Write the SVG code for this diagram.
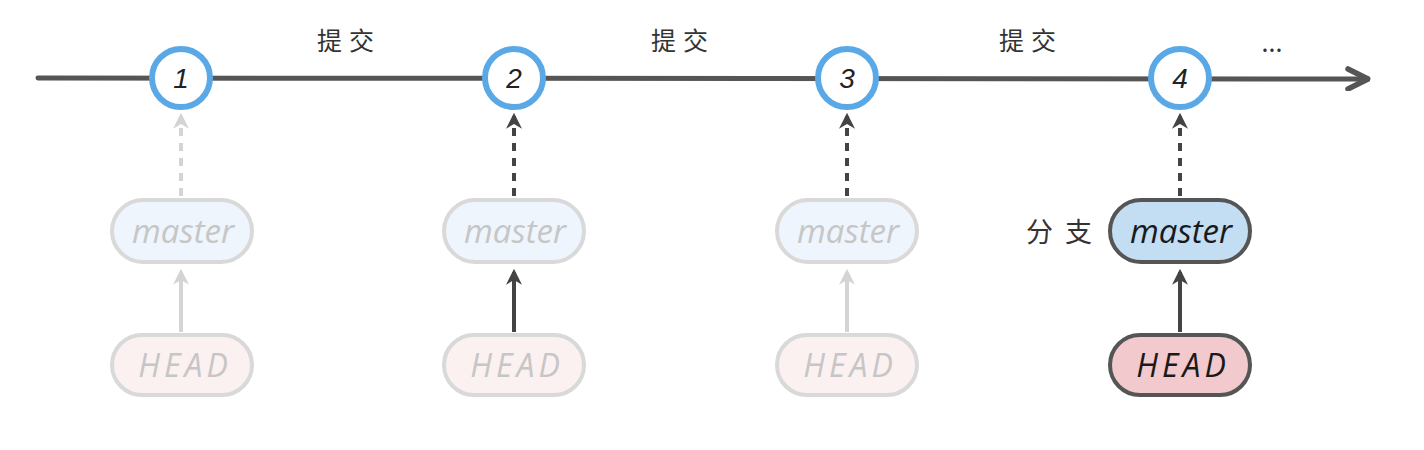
<svg xmlns="http://www.w3.org/2000/svg" width="1424" height="450" viewBox="0 0 1424 450">
<defs>
<style>
.axis{stroke:#555;stroke-width:5;fill:none;stroke-linecap:round}
.commit circle{fill:#fff;stroke:#5aa9e6;stroke-width:6}
.commit text{font-family:"Liberation Sans","DejaVu Sans",sans-serif;font-style:italic;font-size:28px;fill:#222;text-anchor:middle}
.lbl{font-family:"Noto Sans CJK SC","DejaVu Sans",sans-serif;font-size:25px;fill:#333;text-anchor:middle;letter-spacing:7px}
.pill rect{stroke-width:4}
.pill text{font-family:"Open Sans","Liberation Sans",sans-serif;font-style:italic;font-size:33px;text-anchor:middle}
.pill text.hd{font-size:32px;letter-spacing:4px}
.fade rect{stroke:#d9d9d9}
.fade text{fill:#c6c6c6}
.fm rect{fill:#eef5fc}
.fh rect{fill:#fbf1f1}
.act rect{stroke:#555}
.act text{fill:#1a1a1a}
.am rect{fill:#c3ddf3}
.ah rect{fill:#f2c9cc}
.dk{stroke:#444;stroke-width:4;fill:none}
.lt{stroke:#d4d4d4;stroke-width:4;fill:none}
.dash{stroke-dasharray:8 7}
</style>
<marker id="ad" viewBox="0 0 10 10" refX="8" refY="5" markerWidth="4" markerHeight="4" orient="auto-start-reverse"><path d="M0,0 L10,5 L0,10 L3,5 Z" fill="#444"/></marker>
<marker id="al" viewBox="0 0 10 10" refX="8" refY="5" markerWidth="4" markerHeight="4" orient="auto-start-reverse"><path d="M0,0 L10,5 L0,10 L3,5 Z" fill="#d4d4d4"/></marker>
<marker id="ax" viewBox="0 0 10 10" refX="9" refY="5" markerWidth="5" markerHeight="5" orient="auto"><path d="M1,1 L9,5 L1,9" fill="none" stroke="#555" stroke-width="2.2" stroke-linecap="round" stroke-linejoin="round"/></marker>
</defs>
<g id="connectors">
<line class="axis" x1="38" y1="78" x2="1368" y2="79" marker-end="url(#ax)"/>
<line class="lt dash" x1="181" y1="196" x2="181" y2="116" marker-end="url(#al)"/>
<line class="lt" x1="181" y1="332" x2="181" y2="272" marker-end="url(#al)"/>
<line class="dk dash" x1="514" y1="196" x2="514" y2="116" marker-end="url(#ad)"/>
<line class="dk" x1="514" y1="332" x2="514" y2="272" marker-end="url(#ad)"/>
<line class="dk dash" x1="847" y1="196" x2="847" y2="116" marker-end="url(#ad)"/>
<line class="lt" x1="847" y1="332" x2="847" y2="272" marker-end="url(#al)"/>
<line class="dk dash" x1="1180" y1="196" x2="1180" y2="116" marker-end="url(#ad)"/>
<line class="dk" x1="1180" y1="332" x2="1180" y2="272" marker-end="url(#ad)"/>
</g>
<g id="labels">
<text class="lbl" x="349" y="50">提交</text>
<text class="lbl" x="683" y="50">提交</text>
<text class="lbl" x="1031" y="50">提交</text>
<text class="lbl" x="1272" y="52" style="letter-spacing:0">...</text>
<text class="lbl" x="1065" y="242" style="font-size:27px;letter-spacing:12px">分支</text>
</g>
<g id="c1" class="commit"><circle cx="181" cy="78" r="29"/><text x="181" y="88">1</text></g>
<g id="c2" class="commit"><circle cx="514" cy="78" r="29"/><text x="514" y="88">2</text></g>
<g id="c3" class="commit"><circle cx="847" cy="78" r="29"/><text x="847" y="88">3</text></g>
<g id="c4" class="commit"><circle cx="1180" cy="78" r="29"/><text x="1180" y="88">4</text></g>
<g id="m1" class="pill fade fm"><rect x="112" y="200" width="140" height="62" rx="31"/><text x="183" y="243">master</text></g>
<g id="h1" class="pill fade fh"><rect x="112" y="335" width="140" height="60" rx="30"/><text class="hd" x="185" y="377">HEAD</text></g>
<g id="m2" class="pill fade fm"><rect x="444" y="200" width="140" height="62" rx="31"/><text x="515" y="243">master</text></g>
<g id="h2" class="pill fade fh"><rect x="444" y="335" width="140" height="60" rx="30"/><text class="hd" x="517" y="377">HEAD</text></g>
<g id="m3" class="pill fade fm"><rect x="777" y="200" width="140" height="62" rx="31"/><text x="848" y="243">master</text></g>
<g id="h3" class="pill fade fh"><rect x="777" y="335" width="140" height="60" rx="30"/><text class="hd" x="850" y="377">HEAD</text></g>
<g id="m4" class="pill act am"><rect x="1110" y="200" width="140" height="62" rx="31"/><text x="1181" y="243">master</text></g>
<g id="h4" class="pill act ah"><rect x="1110" y="335" width="140" height="60" rx="30"/><text class="hd" x="1183" y="377">HEAD</text></g>
</svg>
